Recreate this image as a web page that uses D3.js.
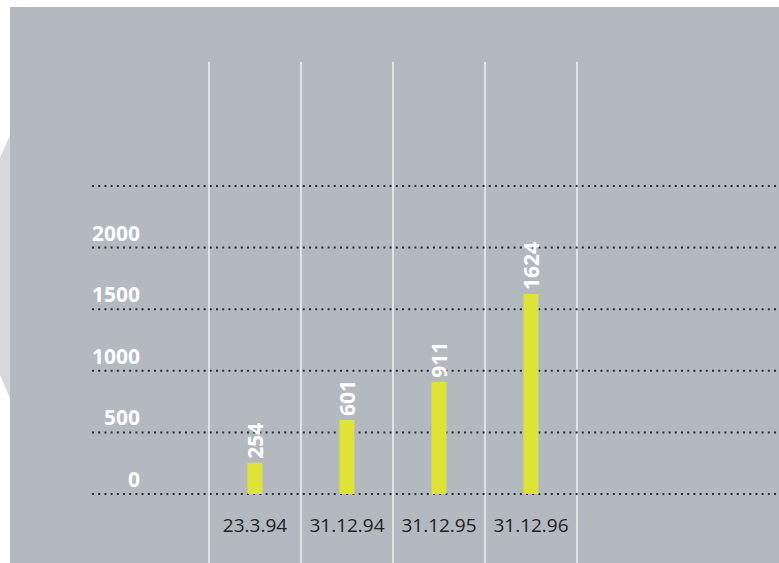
<!DOCTYPE html>
<html>
<head>
<meta charset="utf-8">
<script src="https://cdn.jsdelivr.net/npm/d3@7"></script>
<style>
    body { margin: 0; background: #fff; }
    svg { display: block; }
</style>
</head>
<body>
<script>
// data
var dates = ["23.3.94", "31.12.94", "31.12.95", "31.12.96"];
var values = [254, 601, 911, 1624];
var gridValues = [0, 500, 1000, 1500, 2000, 2500];
var tickLabels = ["0", "500", "1000", "1500", "2000"];

var width = 779,
    height = 563;

var svg = d3.select("body").append("svg")
    .attr("width", width)
    .attr("height", height);

// gray paper background
svg.append("rect")
    .attr("x", 10)
    .attr("y", 7)
    .attr("width", width - 10)
    .attr("height", height - 7)
    .attr("fill", "#b4b8bf");

// lighter scan edge on the left
svg.append("path")
    .attr("d", "M10,135 L0,158 L0,375 L10,398 Z")
    .attr("fill", "#d6d8dc");

var x = d3.scaleBand()
    .domain(dates)
    .range([209, 577]);

var y = d3.scaleLinear()
    .domain([0, 2500])
    .range([494, 186]);

// vertical white column lines
var bounds = dates.map(function(d) { return x(d); });
bounds.push(x(dates[dates.length - 1]) + x.bandwidth());
svg.selectAll("line.col")
    .data(bounds)
    .enter().append("line")
    .attr("class", "col")
    .attr("x1", function(d) { return d; })
    .attr("x2", function(d) { return d; })
    .attr("y1", 62)
    .attr("y2", height)
    .attr("stroke", "#fff")
    .attr("stroke-width", 1.2);

// dotted gridlines
svg.selectAll("line.grid")
    .data(gridValues)
    .enter().append("line")
    .attr("class", "grid")
    .attr("x1", 92)
    .attr("x2", width)
    .attr("y1", function(d) { return y(d); })
    .attr("y2", function(d) { return y(d); })
    .attr("stroke", "#2a2c30")
    .attr("stroke-width", 2)
    .attr("stroke-dasharray", "2,4.2");

// y tick labels
svg.selectAll("text.ytick")
    .data(tickLabels)
    .enter().append("text")
    .attr("class", "ytick")
    .attr("x", 140)
    .attr("y", function(d) { return y(+d) - 7; })
    .attr("text-anchor", "end")
    .attr("font-family", "Open Sans, sans-serif")
    .attr("font-weight", "bold")
    .attr("font-size", 21)
    .attr("fill", "#fff")
    .text(function(d) { return d; });

// bars
var barW = 15;
svg.selectAll("rect.bar")
    .data(values)
    .enter().append("rect")
    .attr("class", "bar")
    .attr("x", function(d, i) { return x(dates[i]) + x.bandwidth() / 2 - barW / 2; })
    .attr("y", function(d) { return y(d); })
    .attr("width", barW)
    .attr("height", function(d) { return y(0) - y(d); })
    .attr("fill", "#dde436");

// value labels, rotated
svg.selectAll("text.val")
    .data(values)
    .enter().append("text")
    .attr("class", "val")
    .attr("transform", function(d, i) {
        var cx = x(dates[i]) + x.bandwidth() / 2;
        return "translate(" + (cx + 8) + "," + (y(d) - 4) + ") rotate(-90)";
    })
    .attr("font-family", "Open Sans, sans-serif")
    .attr("font-weight", "bold")
    .attr("font-size", 21)
    .attr("fill", "#fff")
    .text(function(d) { return d; });

// date labels
svg.selectAll("text.date")
    .data(dates)
    .enter().append("text")
    .attr("class", "date")
    .attr("x", function(d) { return x(d) + x.bandwidth() / 2; })
    .attr("y", 532)
    .attr("text-anchor", "middle")
    .attr("font-family", "Open Sans, sans-serif")
    .attr("font-size", 19)
    .attr("fill", "#222")
    .text(function(d) { return d; });
</script>
</body>
</html>
